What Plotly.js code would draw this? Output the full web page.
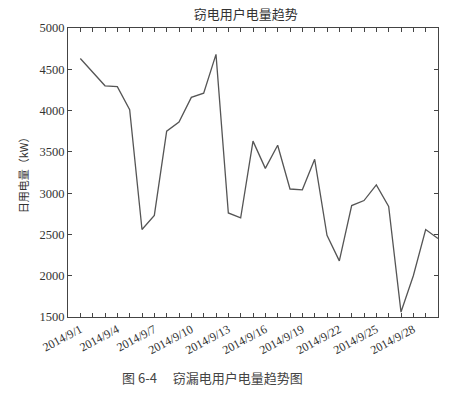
<!DOCTYPE html>
<html><head><meta charset="utf-8">
<script src="https://cdn.plot.ly/plotly-3.0.1.min.js"></script>
<style>html,body{margin:0;padding:0;background:#fff}#c{width:470px;height:404px}</style>
</head><body><div id="c"></div>
<script>
const dates = ['2014-09-01','2014-09-02','2014-09-03','2014-09-04','2014-09-05','2014-09-06','2014-09-07','2014-09-08','2014-09-09','2014-09-10',
'2014-09-11','2014-09-12','2014-09-13','2014-09-14','2014-09-15','2014-09-16','2014-09-17','2014-09-18','2014-09-19','2014-09-20',
'2014-09-21','2014-09-22','2014-09-23','2014-09-24','2014-09-25','2014-09-26','2014-09-27','2014-09-28','2014-09-29','2014-09-30'];
const usage = [4630,4460,4300,4290,4010,2560,2730,3750,3860,4160,
4210,4680,2760,2700,3630,3300,3580,3050,3040,3410,
2490,2180,2850,2910,3100,2840,1560,2000,2560,2450];
const tickVals = ['2014-09-01','2014-09-04','2014-09-07','2014-09-10','2014-09-13','2014-09-16','2014-09-19','2014-09-22','2014-09-25','2014-09-28'];
const tickText = ['2014/9/1','2014/9/4','2014/9/7','2014/9/10','2014/9/13','2014/9/16','2014/9/19','2014/9/22','2014/9/25','2014/9/28'];
const yTicks = [1500,2000,2500,3000,3500,4000,4500,5000];
const titleText = '窃电用户电量趋势';
const yTitle = '日用电量（kW）';
const caption = '图 6-4　 窃漏电用户电量趋势图';

const axisColor = '#444';
const serif = 'Liberation Serif, DejaVu Serif, serif';
const cjk = 'Noto Sans CJK SC, sans-serif';

Plotly.newPlot('c', [{
  x: dates, y: usage, type: 'scatter', mode: 'lines',
  line: {color: '#555', width: 1.3}
}], {
  width: 470, height: 404,
  margin: {l: 68, r: 32, t: 28, b: 87},
  paper_bgcolor: '#fff', plot_bgcolor: '#fff',
  showlegend: false,
  title: {text: titleText, font: {family: cjk, size: 13, color: '#333'}, x: 0.523, xanchor: 'center', y: 0.964, yanchor: 'middle'},
  xaxis: {
    type: 'date', range: ['2014-08-31', '2014-09-30'],
    tickmode: 'array', tickvals: tickVals, ticktext: tickText,
    tickangle: -28, ticks: 'inside', ticklen: 4, tickcolor: axisColor,
    minor: {tickmode: 'array', tickvals: dates, ticks: 'inside', ticklen: 4, tickcolor: axisColor},
    showline: true, linecolor: axisColor, linewidth: 1, mirror: 'ticks',
    showgrid: false, zeroline: false,
    tickfont: {family: serif, size: 12, color: '#333'}
  },
  yaxis: {
    range: [1500, 5000], tickmode: 'array', tickvals: yTicks,
    ticks: 'inside', ticklen: 4, tickcolor: axisColor,
    showline: true, linecolor: axisColor, linewidth: 1, mirror: 'ticks',
    showgrid: false, zeroline: false,
    tickfont: {family: serif, size: 12.5, color: '#333'},
    title: {text: yTitle, font: {family: cjk, size: 11, color: '#333'}, standoff: 8}
  },
  annotations: [{
    text: caption, xref: 'paper', yref: 'paper', x: 0.39, y: -0.211,
    xanchor: 'center', yanchor: 'middle', showarrow: false,
    font: {family: cjk, size: 13, color: '#444'}
  }]
}, {displayModeBar: false, staticPlot: true});
</script></body></html>
